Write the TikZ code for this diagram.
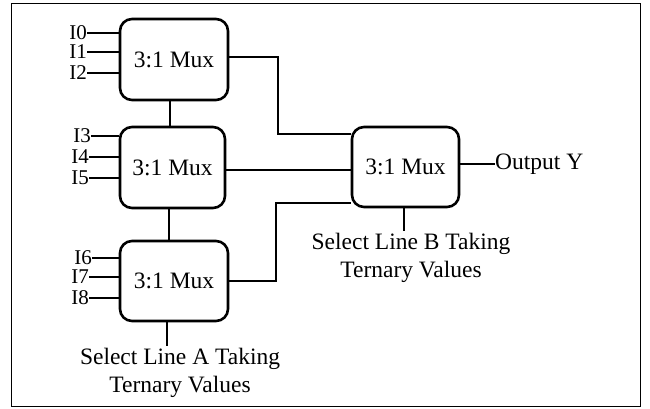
\documentclass[tikz,border=0pt]{standalone}
\usepackage{fontspec}
\setmainfont{Liberation Serif}
\begin{document}
\begin{tikzpicture}[x=1pt,y=-1pt,
  mux/.style={draw,line width=2.6pt,rounded corners=12pt,inner sep=0pt,font=\fontsize{23.5}{28}\selectfont},
  wire/.style={line width=2.6pt},
  lbl/.style={inner sep=0pt,anchor=east,font=\fontsize{21}{24}\selectfont},
  txt/.style={inner sep=0pt,align=center,font=\fontsize{23.5}{28}\selectfont}]
\useasboundingbox (0,0) rectangle (650,408);
\draw[line width=1pt] (11,3) rectangle (640,406);
% muxes
\node[mux,minimum width=108pt,minimum height=81pt] (m1) at (174,59.5) {3:1 Mux};
\node[mux,minimum width=105pt,minimum height=81pt] (m2) at (172.5,167.5) {3:1 Mux};
\node[mux,minimum width=108pt,minimum height=80pt] (m3) at (174,281) {3:1 Mux};
\node[mux,minimum width=107pt,minimum height=80pt] (m4) at (405.5,167) {3:1 Mux};
% input labels
\node[lbl] (i0) at (87,33) {I0};
\node[lbl] (i1) at (87,52) {I1};
\node[lbl] (i2) at (87,73) {I2};
\node[lbl] (i3) at (91,136) {I3};
\node[lbl] (i4) at (89,157) {I4};
\node[lbl] (i5) at (89,178) {I5};
\node[lbl] (i6) at (92,258) {I6};
\node[lbl] (i7) at (89,277) {I7};
\node[lbl] (i8) at (89,298) {I8};
\foreach \i in {0,1,2} \draw[wire] (i\i.east) -- (i\i.east -| m1.west);
\foreach \i in {3,4,5} \draw[wire] (i\i.east) -- (i\i.east -| m2.west);
\foreach \i in {6,7,8} \draw[wire] (i\i.east) -- (i\i.east -| m3.west);
% vertical links
\draw[wire] ([xshift=-4pt]m1.south) -- ([xshift=-4pt]m1.south |- m2.north);
\draw[wire] ([xshift=-3.5pt]m2.south) -- ([xshift=-3.5pt]m2.south |- m3.north);
% outputs into m4
\coordinate (c1) at (278,134);
\coordinate (c3) at (276,203);
\coordinate (c2) at (300,170);
\draw[wire] ([yshift=2.5pt]m1.east) -| (c1) -- (c1 -| m4.west);
\draw[wire] ([yshift=-2.5pt]m2.east) -- (c2 -| m4.west);
\draw[wire] (m3.east) -| (c3) -- (c3 -| m4.west);
% output
\node[inner sep=0pt,anchor=west,font=\fontsize{23.5}{28}\selectfont] (oy) at (495,164) {Output Y};
\draw[wire] ([yshift=3pt]m4.east) -- (oy.west |- 0,164);
% select lines
\coordinate (sa) at (167,346);
\draw[wire] (m3.south -| sa) -- (sa);
\node[txt,anchor=north] (ta) at (180,348) {Select Line A Taking\\Ternary Values};
\coordinate (sb) at (404,231);
\draw[wire] (m4.south -| sb) -- (sb);
\node[txt,anchor=north] (tb) at (411,233) {Select Line B Taking\\Ternary Values};
\end{tikzpicture}
\end{document}
